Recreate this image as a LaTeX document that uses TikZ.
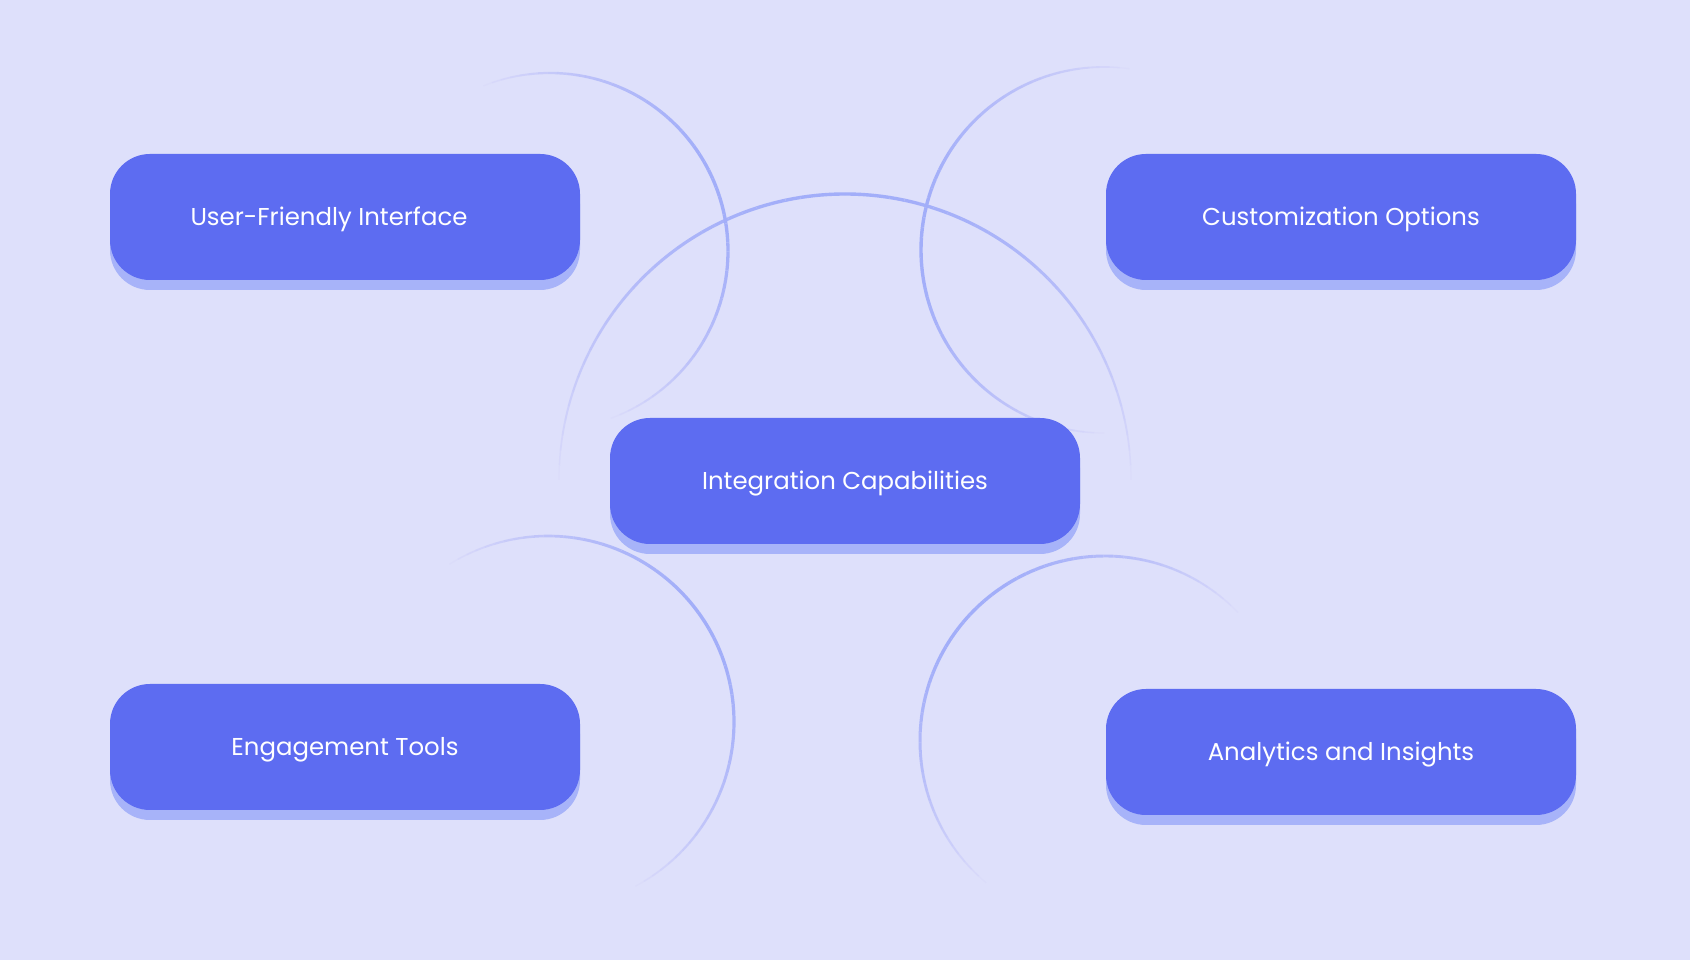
\documentclass[tikz,border=0pt]{standalone}
\usepackage{fontspec}
\setmainfont{Poppins}
\usetikzlibrary{positioning,shadows}

\definecolor{bgcol}{HTML}{DEE0FB}
\definecolor{boxcol}{HTML}{5D6CF1}
\definecolor{boxshade}{HTML}{A7B3F9}
\definecolor{arcstrong}{HTML}{A2AEF9}
\definecolor{arcpale}{HTML}{C8C4FA}

\begin{document}
\begin{tikzpicture}[x=1pt,y=1pt, every node/.style={font=\fontsize{24.4}{29}\selectfont}]
    \tikzset{card/.style={fill=boxcol,text=white,rounded corners=40pt,minimum width=470pt,minimum height=126pt,inner sep=0pt,text height=17pt,text depth=0pt,drop shadow={shadow xshift=0pt,shadow yshift=-10pt,fill=boxshade,opacity=1}}}
    \tikzset{ring/.style={line width=3pt}}

    % Background
    \fill[bgcol] (0,0) rectangle (1690,960);
    \useasboundingbox (0,0) rectangle (1690,960);

    % Faded rings behind the cards
    \foreach \cx/\cy/\r/\a/\b in {550/709/178/112/-70, 845/480/286/180/0, 1104/710/183/82/270, 548/238/186/122/-62, 1105/219/185/44/230}{
        \foreach \i in {0,...,59}{
            \pgfmathsetmacro{\s}{sin(180*(\i+0.5)/60)^0.6}
            \pgfmathsetmacro{\p}{100*\s}
            \pgfmathsetmacro{\u}{\a+(\b-\a)*\i/60}
            \pgfmathsetmacro{\v}{\a+(\b-\a)*(\i+1)/60}
            \draw[ring,arcstrong!\p!arcpale,opacity=\s,line width=1+2.4*\s] ({\cx+\r*cos(\u)},{\cy+\r*sin(\u)}) arc[start angle=\u,end angle=\v,radius=\r];
        }
    }

    % Cards
    \node[card] (ufi) at (345,743) {\hspace*{-32pt}User-Friendly Interface};
    \node[card] (custom) at (1341,743) {Customization Options};
    \node[card] (integ) at (845,479) {Integration Capabilities};
    \node[card] (engage) at (345,213) {Engagement Tools};
    \node[card] (analytics) at (1341,208) {Analytics and Insights};
\end{tikzpicture}
\end{document}
